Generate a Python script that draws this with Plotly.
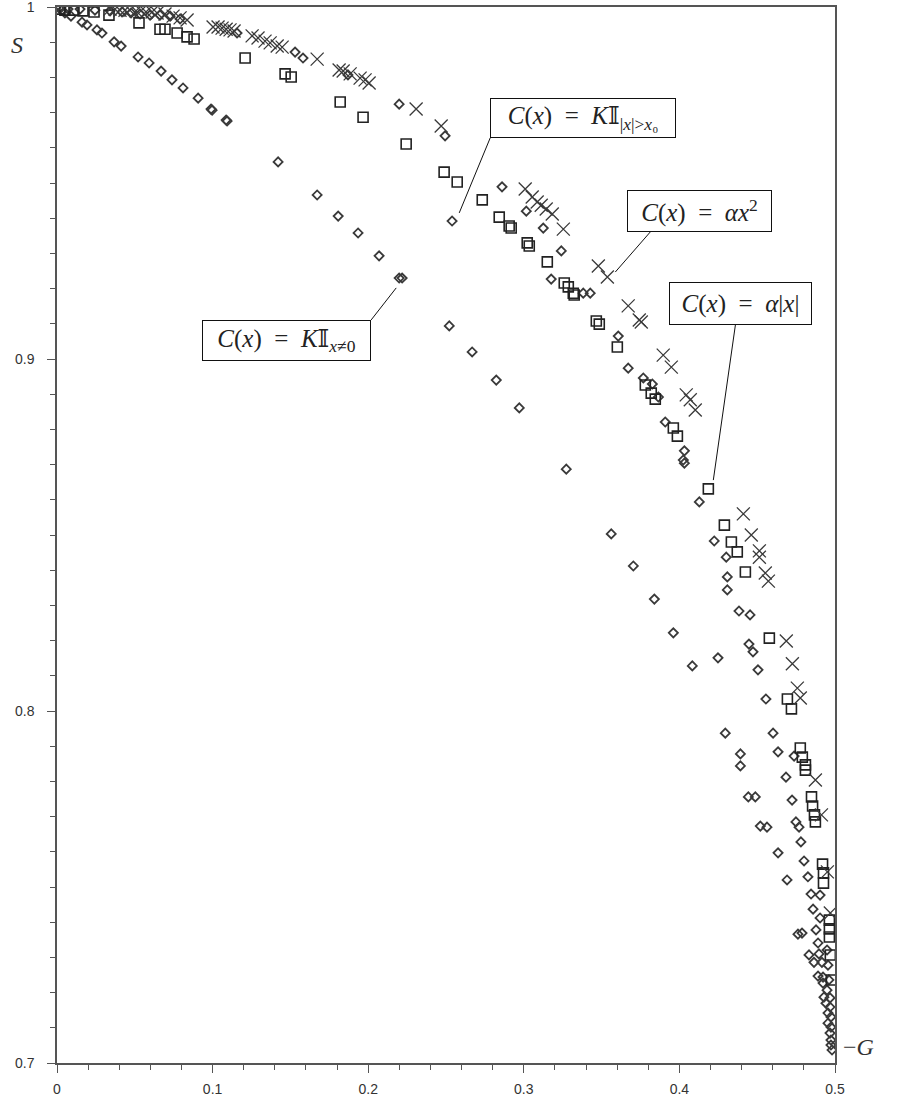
import plotly.graph_objects as go

# ---- data ----
# C(x) = alpha x^2  (x markers)
quad_G = [0.0341, 0.0373, 0.0405, 0.0437, 0.0469, 0.0508, 0.0540, 0.0572, 0.0611, 0.0643,
          0.0694, 0.0746, 0.0791, 0.0836, 0.1003, 0.1035, 0.1061, 0.1087, 0.1112, 0.1138,
          0.1254, 0.1292, 0.1337, 0.1370, 0.1415, 0.1447, 0.1672, 0.1813, 0.1839, 0.1884,
          0.1948, 0.1980, 0.2006, 0.2308, 0.2469, 0.3009, 0.3054, 0.3086, 0.3112, 0.3144,
          0.3183, 0.3254, 0.3479, 0.3537, 0.3671, 0.3742, 0.3755, 0.3896, 0.3948, 0.4044,
          0.4070, 0.4102, 0.4411, 0.4462, 0.4514, 0.4514, 0.4552, 0.4572, 0.4687, 0.4726,
          0.4758, 0.4777, 0.4874, 0.4913, 0.4951, 0.4970]
quad_S = [0.9994, 0.9994, 0.9991, 0.9991, 0.9991, 0.9989, 0.9989, 0.9986, 0.9986, 0.9983,
          0.9980, 0.9974, 0.9969, 0.9963, 0.9943, 0.9943, 0.9940, 0.9937, 0.9935, 0.9932,
          0.9918, 0.9912, 0.9903, 0.9898, 0.9889, 0.9886, 0.9852, 0.9821, 0.9818, 0.9810,
          0.9798, 0.9793, 0.9784, 0.9710, 0.9662, 0.9483, 0.9460, 0.9446, 0.9437, 0.9426,
          0.9412, 0.9369, 0.9264, 0.9233, 0.9151, 0.9111, 0.9105, 0.9011, 0.8977, 0.8898,
          0.8884, 0.8855, 0.8560, 0.8500, 0.8455, 0.8437, 0.8392, 0.8369, 0.8199, 0.8134,
          0.8065, 0.8037, 0.7804, 0.7705, 0.7543, 0.7426]

# C(x) = alpha |x|  (square markers)
abs_G = [0.0019, 0.0051, 0.0109, 0.0167, 0.0238, 0.0334, 0.0527, 0.0662, 0.0694, 0.0772,
         0.0836, 0.0881, 0.1209, 0.1466, 0.1505, 0.1820, 0.1967, 0.2244, 0.2488, 0.2572,
         0.2733, 0.2842, 0.2906, 0.2919, 0.3022, 0.3035, 0.3151, 0.3260, 0.3286, 0.3318,
         0.3324, 0.3466, 0.3485, 0.3601, 0.3781, 0.3819, 0.3845, 0.3961, 0.3987, 0.4186,
         0.4289, 0.4334, 0.4372, 0.4424, 0.4578, 0.4694, 0.4720, 0.4777, 0.4790, 0.4810,
         0.4810, 0.4849, 0.4856, 0.4868, 0.4874, 0.4920, 0.4926, 0.4926, 0.4964, 0.4964,
         0.4964, 0.4970, 0.4977]
abs_S = [0.9994, 0.9991, 0.9991, 0.9989, 0.9986, 0.9977, 0.9955, 0.9937, 0.9937, 0.9926,
         0.9915, 0.9909, 0.9855, 0.9810, 0.9801, 0.9730, 0.9687, 0.9611, 0.9531, 0.9503,
         0.9452, 0.9403, 0.9378, 0.9372, 0.9330, 0.9321, 0.9276, 0.9216, 0.9205, 0.9187,
         0.9182, 0.9108, 0.9099, 0.9034, 0.8926, 0.8903, 0.8886, 0.8804, 0.8781, 0.8631,
         0.8528, 0.8480, 0.8452, 0.8395, 0.8207, 0.8034, 0.8006, 0.7895, 0.7869, 0.7847,
         0.7832, 0.7756, 0.7730, 0.7705, 0.7685, 0.7565, 0.7540, 0.7511, 0.7406, 0.7381,
         0.7358, 0.7307, 0.7236]

# C(x) = K 1_{x != 0}  (diamonds, lower curve)
ind0_G = [0.0013, 0.0032, 0.0051, 0.0090, 0.0161, 0.0193, 0.0257, 0.0289, 0.0367, 0.0412,
          0.0521, 0.0592, 0.0669, 0.0739, 0.0810, 0.0907, 0.0990, 0.0997, 0.1087, 0.1093,
          0.1421, 0.1672, 0.1807, 0.1935, 0.2070, 0.2199, 0.2218, 0.2521, 0.2668, 0.2823,
          0.2971, 0.3273, 0.3562, 0.3704, 0.3839, 0.3961, 0.4083, 0.4295, 0.4392, 0.4392,
          0.4443, 0.4488, 0.4520, 0.4563, 0.4634, 0.4692, 0.4762, 0.4788, 0.4833, 0.4865,
          0.4891, 0.4923, 0.4942, 0.4955, 0.4968, 0.4974]
ind0_S = [0.9997, 0.9991, 0.9983, 0.9974, 0.9957, 0.9949, 0.9935, 0.9926, 0.9901, 0.9889,
          0.9858, 0.9841, 0.9818, 0.9793, 0.9770, 0.9741, 0.9710, 0.9707, 0.9679, 0.9676,
          0.9560, 0.9466, 0.9406, 0.9358, 0.9293, 0.9230, 0.9230, 0.9094, 0.9020, 0.8940,
          0.8861, 0.8687, 0.8503, 0.8412, 0.8318, 0.8222, 0.8128, 0.7937, 0.7878, 0.7844,
          0.7756, 0.7756, 0.7673, 0.7670, 0.7597, 0.7520, 0.7366, 0.7369, 0.7307, 0.7286,
          0.7247, 0.7227, 0.7170, 0.7113, 0.7085, 0.7051]

# C(x) = K 1_{|x| > x0}  (diamonds, middle curve)
thr_G = [0.0019, 0.0071, 0.0148, 0.0244, 0.0341, 0.0418, 0.0476, 0.0534, 0.0598, 0.0662,
         0.0727, 0.0791, 0.1157, 0.1530, 0.1581, 0.1870, 0.2199, 0.2494, 0.2539, 0.2860,
         0.3016, 0.3125, 0.3241, 0.3176, 0.3382, 0.3427, 0.3607, 0.3671, 0.3768, 0.3826,
         0.3865, 0.3909, 0.4032, 0.4025, 0.4032, 0.4128, 0.4224, 0.4301, 0.4308, 0.4308,
         0.4383, 0.4454, 0.4447, 0.4473, 0.4248, 0.4505, 0.4556, 0.4602, 0.4634, 0.4737,
         0.4685, 0.4724, 0.4749, 0.4769, 0.4781, 0.4801, 0.4826, 0.4846, 0.4904, 0.4859,
         0.4904, 0.4878, 0.4891, 0.4949, 0.4897, 0.4916, 0.4955, 0.4923, 0.4961, 0.4949,
         0.4929, 0.4968, 0.4968, 0.4955, 0.4974, 0.4974, 0.4974, 0.4981]
thr_S = [1.0000, 0.9994, 0.9994, 0.9991, 0.9989, 0.9986, 0.9983, 0.9980, 0.9977, 0.9977,
         0.9974, 0.9966, 0.9926, 0.9872, 0.9855, 0.9807, 0.9724, 0.9634, 0.9392, 0.9489,
         0.9420, 0.9372, 0.9307, 0.9227, 0.9187, 0.9187, 0.9065, 0.8974, 0.8946, 0.8929,
         0.8892, 0.8821, 0.8739, 0.8713, 0.8704, 0.8594, 0.8483, 0.8437, 0.8381, 0.8344,
         0.8284, 0.8273, 0.8190, 0.8168, 0.8151, 0.8117, 0.8034, 0.7937, 0.7884, 0.7872,
         0.7812, 0.7747, 0.7685, 0.7670, 0.7628, 0.7574, 0.7529, 0.7480, 0.7477, 0.7437,
         0.7412, 0.7378, 0.7341, 0.7321, 0.7310, 0.7286, 0.7278, 0.7244, 0.7236, 0.7207,
         0.7187, 0.7185, 0.7159, 0.7142, 0.7131, 0.7102, 0.7065, 0.7037]

x_ticks = [0, 0.1, 0.2, 0.3, 0.4, 0.5]
x_tick_text = ["0", "0.1", "0.2", "0.3", "0.4", "0.5"]
y_ticks = [0.7, 0.8, 0.9, 1.0]
y_tick_text = ["0.7", "0.8", "0.9", "1"]

# label boxes: text, box centre (G, S), box width/height, leader line from (G, S) to (G, S)
EQ = "&nbsp;&nbsp;=&nbsp;&nbsp;"
labels = [
    ("<i>C</i>(<i>x</i>)" + EQ + "<i>K</i>𝕀<sub>|<i>x</i>|&gt;<i>x</i>₀</sub>", 0.3382, 0.9685, 186, 40,
     (0.2784, 0.9628), (0.2585, 0.9415)),
    ("<i>C</i>(<i>x</i>)" + EQ + "<i>αx</i><sup>2</sup>", 0.4131, 0.9420, 145, 42,
     (0.3813, 0.9361), (0.3588, 0.9247)),
    ("<i>C</i>(<i>x</i>)" + EQ + "<i>α</i>|<i>x</i>|", 0.4395, 0.9158, 143, 43,
     (0.4360, 0.9097), (0.4218, 0.8656)),
    ("<i>C</i>(<i>x</i>)" + EQ + "<i>K</i>𝕀<sub><i>x</i>≠0</sub>", 0.1476, 0.9053, 169, 41,
     (0.2019, 0.9111), (0.2180, 0.9202)),
]

INK = "#3a3a3a"

fig = go.Figure()
diamond = dict(symbol="diamond-open", size=7, color=INK, line=dict(width=1.8, color=INK))
fig.add_trace(go.Scatter(x=ind0_G, y=ind0_S, mode="markers", marker=diamond, name="K I x≠0"))
fig.add_trace(go.Scatter(x=thr_G, y=thr_S, mode="markers", marker=diamond, name="K I |x|>x0"))
fig.add_trace(go.Scatter(x=abs_G, y=abs_S, mode="markers",
                         marker=dict(symbol="square-open", size=10, color="#222",
                                     line=dict(width=1.6, color="#222")), name="alpha|x|"))
fig.add_trace(go.Scatter(x=quad_G, y=quad_S, mode="markers",
                         marker=dict(symbol="x-thin-open", size=13, color=INK,
                                     line=dict(width=1.3, color=INK)), name="alpha x^2"))

serif = "Liberation Serif, DejaVu Serif, serif"
PAD = 3
for text, cx, cy, w, h, p0, p1 in labels:
    fig.add_shape(type="line", x0=p0[0], y0=p0[1], x1=p1[0], y1=p1[1],
                  xref="x", yref="y", line=dict(color="#111", width=1))
    fig.add_annotation(x=cx, y=cy, xref="x", yref="y", text=text, showarrow=False,
                       xanchor="center", yanchor="middle",
                       width=w - 2 * PAD - 2, height=h - 2 * PAD - 2,
                       font=dict(family=serif, size=25, color="#222"),
                       bgcolor="white", bordercolor="#111", borderwidth=1, borderpad=PAD)

fig.add_annotation(x=-0.0514, y=0.964, xref="paper", yref="paper", text="<i>S</i>",
                   xanchor="center", yanchor="middle",
                   showarrow=False, font=dict(family=serif, size=24, color="#333"))
fig.add_annotation(x=1.0296, y=0.0152, xref="paper", yref="paper", text="−<i>G</i>",
                   xanchor="center", yanchor="middle",
                   showarrow=False, font=dict(family=serif, size=24, color="#333"))

axis_common = dict(showline=True, linecolor="#555", linewidth=1.5, mirror=True,
                   showgrid=False, zeroline=False, ticks="outside", ticklen=8,
                   tickwidth=1.2, tickcolor="#555", automargin=False,
                   ticklabeloverflow="allow",
                   tickfont=dict(family="Liberation Sans, Arial, sans-serif", size=14, color="#333"))
fig.update_xaxes(range=[0, 0.5], tickvals=x_ticks, ticktext=x_tick_text,
                 minor=dict(dtick=0.02, ticks="outside", ticklen=5, tickcolor="#555", tickwidth=1),
                 ticklabelstandoff=4, **axis_common)
fig.update_yaxes(range=[0.7, 1.0], tickvals=y_ticks, ticktext=y_tick_text,
                 minor=dict(dtick=0.01, ticks="outside", ticklen=5, tickcolor="#555", tickwidth=1),
                 ticklabelstandoff=10, **axis_common)

fig.update_layout(width=899, height=1101, showlegend=False,
                  plot_bgcolor="white", paper_bgcolor="white",
                  margin=dict(l=57, r=64, t=7, b=38, autoexpand=False))
fig.write_html("out.html", config={"displayModeBar": False},
               post_script="document.body.style.margin='0';document.body.style.overflow='hidden';")
